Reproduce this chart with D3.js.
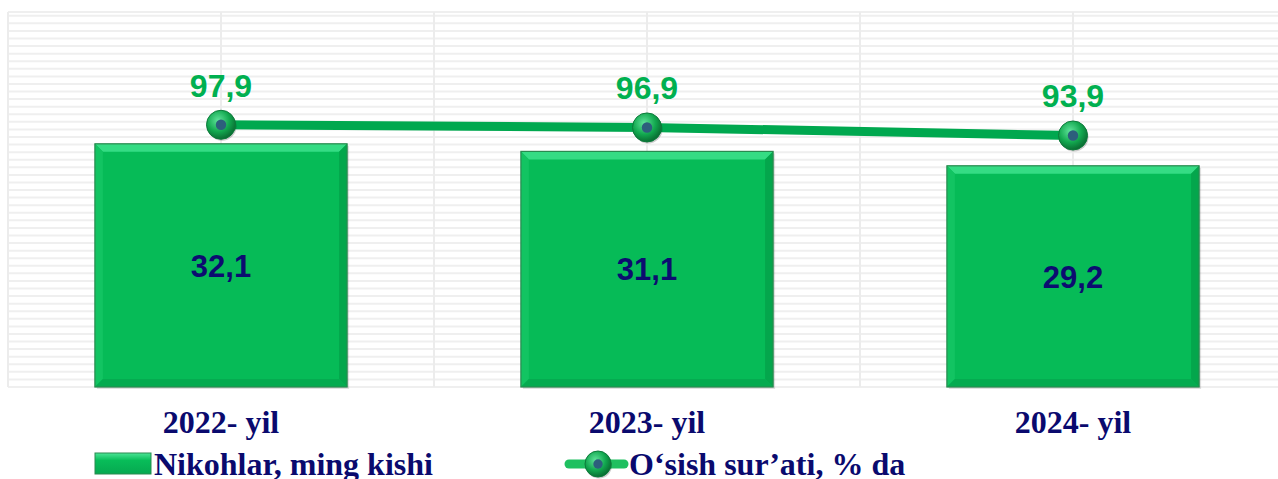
<!DOCTYPE html>
<html>
<head>
<meta charset="utf-8">
<script src="https://cdn.jsdelivr.net/npm/d3@7"></script>
<style>
  body { margin: 0; background: #fff; }
  svg { display: block; }
</style>
</head>
<body>
<svg id="chart" width="1278" height="479"></svg>
<script>
var categories = ['2022- yil', '2023- yil', '2024- yil'];
var marriages = [32.1, 31.1, 29.2];      // Nikohlar, ming kishi
var growth = [97.9, 96.9, 93.9];         // O‘sish sur’ati, % da
var barLabels = ['32,1', '31,1', '29,2'];
var growthLabels = ['97,9', '96,9', '93,9'];
var legendNames = ['Nikohlar, ming kishi', 'O‘sish sur’ati, % da'];

var svg = d3.select('#chart');
// plot area (window.top is reserved, so use plot* names)
var plotLeft = 8, plotRight = 1286, plotTop = 12, plotBottom = 387;

var x = d3.scaleBand().domain(categories).range([plotLeft, plotRight])
  .paddingInner(0.408).paddingOuter(0.204);
var y = d3.scaleLinear().domain([0, 49.5]).range([plotBottom, plotTop]);
var y2 = d3.scaleLinear().domain([0, 140]).range([plotBottom, plotTop]);

var defs = svg.append('defs');
var grad = defs.append('radialGradient').attr('id', 'ball')
  .attr('cx', '40%').attr('cy', '35%').attr('r', '65%');
grad.append('stop').attr('offset', '0%').attr('stop-color', '#5fe39a');
grad.append('stop').attr('offset', '60%').attr('stop-color', '#12a84f');
grad.append('stop').attr('offset', '100%').attr('stop-color', '#0a6e33');
var lgGrad = defs.append('linearGradient').attr('id', 'legbar')
  .attr('x1', 0).attr('y1', 0).attr('x2', 0).attr('y2', 1);
lgGrad.append('stop').attr('offset', '0%').attr('stop-color', '#4be596');
lgGrad.append('stop').attr('offset', '35%').attr('stop-color', '#08bd59');
lgGrad.append('stop').attr('offset', '100%').attr('stop-color', '#06a850');

// gridlines
var grid = svg.append('g');
grid.selectAll('line.h').data(d3.range(0, 50).concat([49.5]))
  .enter().append('line')
  .attr('x1', plotLeft).attr('x2', plotRight)
  .attr('y1', function(d) { return y(d); })
  .attr('y2', function(d) { return y(d); })
  .attr('stroke', '#efefef').attr('stroke-width', 2);
var vx = d3.range(0, 7).map(function(i) { return plotLeft + i * x.step() / 2; });
grid.selectAll('line.v').data(vx)
  .enter().append('line')
  .attr('x1', function(d) { return d; }).attr('x2', function(d) { return d; })
  .attr('y1', plotTop).attr('y2', plotBottom)
  .attr('stroke', '#ececec').attr('stroke-width', 2);

// bars with bevel
var bars = svg.append('g').selectAll('g').data(categories).enter().append('g');
bars.each(function(c, i) {
  var g = d3.select(this);
  var x0 = x(c), w = x.bandwidth(), y0 = y(marriages[i]), y1 = y(0), b = 8;
  g.append('rect').attr('x', x0 + 2).attr('y', y0 + 2).attr('width', w).attr('height', y1 - y0)
    .attr('fill', '#000').attr('opacity', 0.12);
  g.append('rect').attr('x', x0).attr('y', y0).attr('width', w).attr('height', y1 - y0)
    .attr('fill', '#06bb57');
  var p = function(pts) { return pts.map(function(q) { return q.join(','); }).join(' '); };
  g.append('polygon').attr('points', p([[x0, y0], [x0 + w, y0], [x0 + w - b, y0 + b], [x0 + b, y0 + b]]))
    .attr('fill', '#35dc84');
  g.append('polygon').attr('points', p([[x0, y0], [x0 + b, y0 + b], [x0 + b, y1 - b], [x0, y1]]))
    .attr('fill', '#12c462');
  g.append('polygon').attr('points', p([[x0 + w, y0], [x0 + w, y1], [x0 + w - b, y1 - b], [x0 + w - b, y0 + b]]))
    .attr('fill', '#04a64c');
  g.append('polygon').attr('points', p([[x0, y1], [x0 + w, y1], [x0 + w - b, y1 - b], [x0 + b, y1 - b]]))
    .attr('fill', '#05ab50');
  g.append('rect').attr('x', x0).attr('y', y0).attr('width', w).attr('height', y1 - y0)
    .attr('fill', 'none').attr('stroke', '#2a8a50').attr('stroke-width', 1.2);
  g.append('text').attr('x', x0 + w / 2).attr('y', (y0 + y1) / 2)
    .attr('dy', '0.36em').attr('text-anchor', 'middle')
    .attr('font-family', 'Liberation Sans, Arial, sans-serif').attr('font-weight', 'bold')
    .attr('font-size', 31).attr('fill', '#0c0c70').text(barLabels[i]);
});

// growth line
var cx = function(c) { return x(c) + x.bandwidth() / 2; };
var line = d3.line().x(function(d, i) { return cx(categories[i]); }).y(function(d) { return y2(d); });
svg.append('path').datum(growth).attr('d', line)
  .attr('fill', 'none').attr('stroke', '#00a84f').attr('stroke-width', 9);

function marker(g, px, py, r) {
  g.append('circle').attr('cx', px + 1).attr('cy', py + 1.5).attr('r', r).attr('fill', '#000').attr('opacity', 0.2);
  g.append('circle').attr('cx', px).attr('cy', py).attr('r', r).attr('fill', 'url(#ball)')
    .attr('stroke', '#0c7a3a').attr('stroke-width', 1);
  g.append('circle').attr('cx', px).attr('cy', py).attr('r', r * 0.36).attr('fill', '#2d5f7c');
}
var pts = svg.append('g');
growth.forEach(function(v, i) {
  var px = cx(categories[i]), py = y2(v);
  marker(pts, px, py, 14.5);
  pts.append('text').attr('x', px).attr('y', py - 28).attr('text-anchor', 'middle')
    .attr('font-family', 'Liberation Sans, Arial, sans-serif').attr('font-weight', 'bold')
    .attr('font-size', 32).attr('fill', '#00b050').text(growthLabels[i]);
});

// category axis labels
svg.append('g').selectAll('text').data(categories).enter().append('text')
  .attr('x', function(d) { return cx(d); }).attr('y', 433)
  .attr('text-anchor', 'middle')
  .attr('font-family', 'Liberation Serif, Times New Roman, serif').attr('font-weight', 'bold')
  .attr('font-size', 32).attr('fill', '#0a0a6e').text(function(d) { return d; });

// legend
var lg = svg.append('g');
lg.append('rect').attr('x', 95).attr('y', 453).attr('width', 56).attr('height', 21).attr('fill', 'url(#legbar)')
  .attr('stroke', '#2a8a50').attr('stroke-width', 1);
lg.append('text').attr('x', 154).attr('y', 475)
  .attr('font-family', 'Liberation Serif, Times New Roman, serif').attr('font-weight', 'bold')
  .attr('font-size', 32).attr('fill', '#0a0a6e').text(legendNames[0]);
lg.append('line').attr('x1', 569).attr('x2', 624).attr('y1', 464).attr('y2', 464)
  .attr('stroke', '#1fc060').attr('stroke-width', 9).attr('stroke-linecap', 'round');
marker(lg, 598, 464, 13);
lg.append('text').attr('x', 629).attr('y', 475)
  .attr('font-family', 'Liberation Serif, Times New Roman, serif').attr('font-weight', 'bold')
  .attr('font-size', 32).attr('fill', '#0a0a6e').text(legendNames[1]);
</script>
</body>
</html>
